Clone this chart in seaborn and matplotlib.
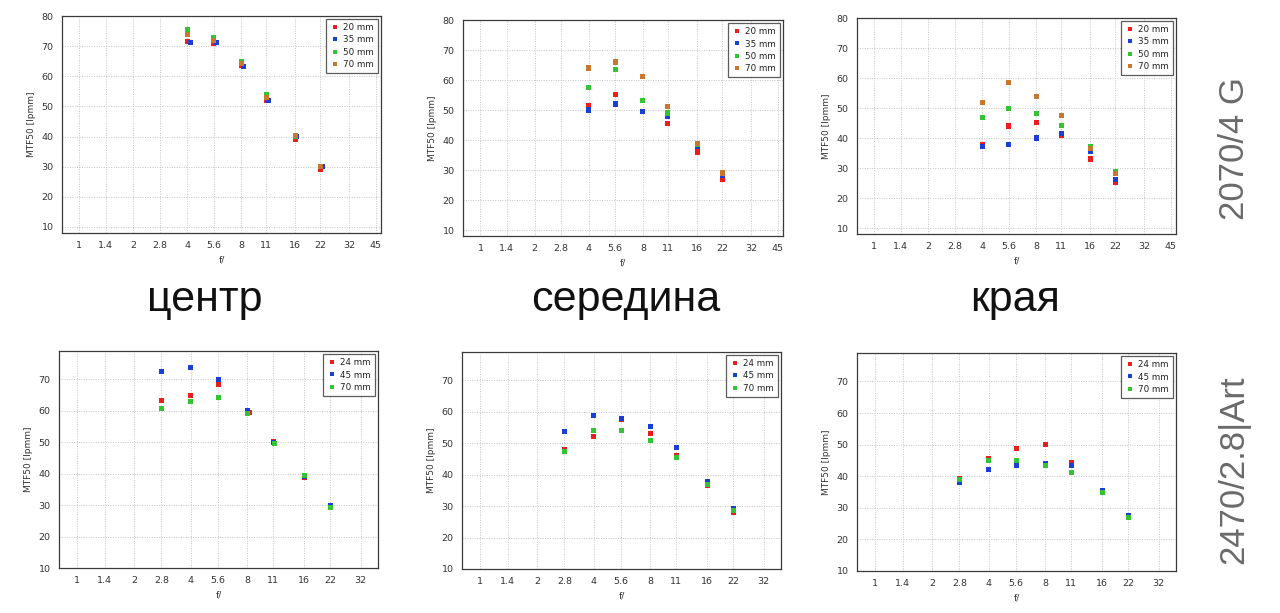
import numpy as np
import pandas as pd
import matplotlib
matplotlib.use("Agg")
import matplotlib.pyplot as plt
import seaborn as sns
from matplotlib.lines import Line2D
from matplotlib.ticker import FixedLocator, MultipleLocator, NullFormatter

sns.set_theme(style="white")
plt.rcParams["font.family"] = ["DejaVu Sans"]

# ---------------- data ----------------
F_TOP = [4, 5.6, 8, 11, 16, 22]
F_TOP_35 = [4.17, 5.82, 8.17, 11.3, 16.2, 22.7]
F_BOT = [2.8, 4, 5.6, 8, 11, 16, 22]
F_BOT_24_C = [2.8, 4, 5.6, 8.2, 11, 16, 22]
F_BOT_70_C = [2.8, 4, 5.6, 8, 11.2, 16, 22]

LENS_TOP = ["20 mm", "35 mm", "50 mm", "70 mm"]
LENS_BOT = ["24 mm", "45 mm", "70 mm"]

G_CENTER_20 = [71.5, 71.0, 63.6, 51.8, 39.0, 29.0]
G_CENTER_35 = [71.3, 71.2, 63.1, 52.1, 40.0, 30.0]
G_CENTER_50 = [75.5, 73.0, 65.0, 54.0, 40.0, 30.0]
G_CENTER_70 = [74.0, 72.0, 64.2, 53.0, 40.3, 29.9]

G_MID_20 = [51.4, 55.3, 49.6, 45.5, 36.0, 26.9]
G_MID_35 = [50.0, 52.0, 49.5, 47.7, 38.0, 28.2]
G_MID_50 = [57.6, 63.4, 53.2, 49.0, 38.4, 28.7]
G_MID_70 = [64.0, 66.0, 61.2, 51.2, 38.8, 29.0]

G_EDGE_20 = [37.8, 44.0, 45.2, 40.7, 33.0, 25.1]
G_EDGE_35 = [37.2, 37.8, 40.0, 41.4, 35.4, 26.2]
G_EDGE_50 = [46.7, 49.7, 48.2, 44.1, 37.0, 28.7]
G_EDGE_70 = [51.7, 58.6, 53.9, 47.5, 36.6, 28.3]

A_CENTER_24 = [63.2, 64.8, 68.4, 59.3, 50.2, 38.7, 29.5]
A_CENTER_45 = [72.6, 73.9, 70.0, 60.0, 50.0, 39.0, 29.8]
A_CENTER_70 = [60.6, 62.9, 64.1, 59.1, 49.7, 39.5, 29.3]

A_MID_24 = [48.1, 52.2, 57.5, 53.0, 46.2, 36.5, 28.0]
A_MID_45 = [53.7, 58.7, 57.8, 55.3, 48.6, 37.7, 29.2]
A_MID_70 = [47.5, 54.1, 54.0, 51.0, 45.3, 37.0, 28.6]

A_EDGE_24 = [39.3, 45.5, 48.9, 50.1, 44.3, 35.6, 27.4]
A_EDGE_45 = [37.9, 42.1, 43.5, 43.9, 43.4, 35.5, 27.6]
A_EDGE_70 = [38.9, 44.9, 45.0, 43.5, 41.2, 34.9, 27.0]

XTICKS_TOP = [1, 1.4, 2, 2.8, 4, 5.6, 8, 11, 16, 22, 32, 45]
XTICKS_BOT = [1, 1.4, 2, 2.8, 4, 5.6, 8, 11, 16, 22, 32]
XTICKLABELS_TOP = ["1", "1.4", "2", "2.8", "4", "5.6", "8", "11", "16", "22", "32", "45"]
XTICKLABELS_BOT = XTICKLABELS_TOP[:-1]

SECTION_LABELS = ["центр", "середина", "края"]
LENS_NAMES = ["2070/4 G", "2470/2.8|Art"]

COLORS_TOP = ["#ee1c1c", "#1a3fd8", "#33c433", "#c9772f"]
COLORS_BOT = ["#ee1c1c", "#1a3fd8", "#33c433"]

W, H = 1280, 613
fig = plt.figure(figsize=(W / 100, H / 100), dpi=100)
fig.patch.set_facecolor("white")


def add_ax(l, r, t, b):
    return fig.add_axes([l / W, 1 - b / H, (r - l) / W, (b - t) / H])


def make_df(lenses, xs, ys):
    rows = []
    for lens, xv, yv in zip(lenses, xs, ys):
        for x, y in zip(xv, yv):
            rows.append({"f": x, "mtf": y, "lens": lens})
    return pd.DataFrame(rows)


def draw(ax, df, lenses, colors, xticks, xlabels, xlim, ylim, yticks):
    ax.set_facecolor("white")
    ax.set_xscale("log")
    ax.xaxis.set_major_locator(FixedLocator(xticks))
    ax.set_xticklabels(xlabels)
    mids = [np.sqrt(a * b) for a, b in zip(xticks[:-1], xticks[1:])]
    ax.xaxis.set_minor_locator(FixedLocator(mids))
    ax.xaxis.set_minor_formatter(NullFormatter())
    ax.set_xlim(*xlim)
    ax.set_ylim(*ylim)
    ax.yaxis.set_major_locator(FixedLocator(yticks))
    ax.yaxis.set_minor_locator(MultipleLocator(2))
    ax.grid(True, which="major", color="#c4c4c4", linestyle=(0, (1, 1.5)), linewidth=0.7)
    ax.set_axisbelow(True)
    sns.scatterplot(data=df, x="f", y="mtf", hue="lens", hue_order=lenses,
                    palette=dict(zip(lenses, colors)), marker="s", s=13,
                    linewidth=0, ax=ax, legend=False, zorder=3)
    for sp in ax.spines.values():
        sp.set_color("#3a3a3a")
        sp.set_linewidth(0.9)
    ax.tick_params(axis="both", which="major", direction="out", length=3,
                   width=0.6, color="#555555", labelsize=6.8, labelcolor="#333333", pad=3)
    ax.tick_params(axis="both", which="minor", direction="out", length=1.8,
                   width=0.5, color="#777777")
    ax.set_xlabel("f/", fontsize=6.5, color="#333333", labelpad=4)
    ax.set_ylabel("MTF50 [lpmm]", fontsize=6.5, color="#333333", labelpad=4)
    handles = [Line2D([], [], marker="s", linestyle="none", markersize=3.3,
                      markerfacecolor=c, markeredgewidth=0) for c in colors]
    leg = ax.legend(handles, lenses, loc="upper right", fontsize=6.3,
                    frameon=True, fancybox=False, borderpad=0.5,
                    handletextpad=0.4, handlelength=1.0, labelspacing=0.35,
                    borderaxespad=0.35)
    leg.get_frame().set_edgecolor("#333333")
    leg.get_frame().set_linewidth(0.9)
    for t in leg.get_texts():
        t.set_color("#222222")


top_specs = [
    ((62, 381, 16, 233), [G_CENTER_20, G_CENTER_35, G_CENTER_50, G_CENTER_70],
     [F_TOP, F_TOP_35, F_TOP, F_TOP]),
    ((463, 783, 20, 236), [G_MID_20, G_MID_35, G_MID_50, G_MID_70],
     [F_TOP] * 4),
    ((857, 1176, 18, 234), [G_EDGE_20, G_EDGE_35, G_EDGE_50, G_EDGE_70],
     [F_TOP] * 4),
]
for rect, ys, xs in top_specs:
    ax = add_ax(*rect)
    df = make_df(LENS_TOP, xs, ys)
    draw(ax, df, LENS_TOP, COLORS_TOP, XTICKS_TOP, XTICKLABELS_TOP,
         (0.8, 48), (8, 80), list(range(10, 81, 10)))

bot_specs = [
    ((59, 378, 351, 568), [A_CENTER_24, A_CENTER_45, A_CENTER_70],
     [F_BOT_24_C, F_BOT, F_BOT_70_C]),
    ((462, 781, 352, 569), [A_MID_24, A_MID_45, A_MID_70], [F_BOT] * 3),
    ((857, 1176, 353, 571), [A_EDGE_24, A_EDGE_45, A_EDGE_70], [F_BOT] * 3),
]
for rect, ys, xs in bot_specs:
    ax = add_ax(*rect)
    df = make_df(LENS_BOT, xs, ys)
    draw(ax, df, LENS_BOT, COLORS_BOT, XTICKS_BOT, XTICKLABELS_BOT,
         (0.8, 39.5), (10, 79), list(range(10, 71, 10)))

# section labels
for label, cx in zip(SECTION_LABELS, [205, 626, 1015]):
    fig.text(cx / W, 1 - 300 / H, label, ha="center", va="center",
             fontsize=31, color="#111111",
             family=["Liberation Sans", "DejaVu Sans"])

# lens names (vertical)
for name, cy in zip(LENS_NAMES, [148, 470]):
    fig.text(1234 / W, 1 - cy / H, name, ha="center", va="center",
             rotation=90, fontsize=25, color="#6a6a6a",
             family=["Liberation Sans", "DejaVu Sans"])

fig.savefig("out.png", dpi=100, facecolor="white")
